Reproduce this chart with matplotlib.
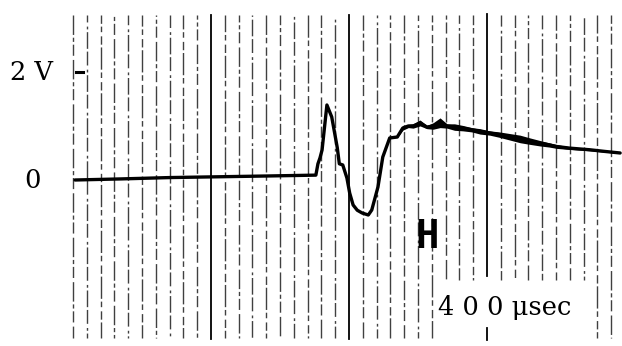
import numpy as np
import matplotlib
matplotlib.use("Agg")
import matplotlib.pyplot as plt

# Oscilloscope trace: time in microseconds, amplitude in volts
t_us = [-197, -130, -60, 13, 85, 152, 155, 158, 161, 168,
        175, 183, 186, 191, 197, 201, 206, 212, 219, 228,
        233, 242, 249, 259, 270, 278, 286, 293, 303, 313,
        322, 332, 342, 353, 365, 378, 390, 404, 418, 433,
        448, 462, 477, 490, 501, 520, 549, 570, 593]
volts = [0.0, 0.02, 0.045, 0.06, 0.075, 0.09, 0.30, 0.41, 0.556, 1.389,
         1.167, 0.60, 0.30, 0.278, 0.037, -0.241, -0.463, -0.56, -0.611, -0.648,
         -0.556, -0.130, 0.426, 0.778, 0.796, 0.963, 1.0, 1.0, 1.056, 0.98,
         1.0, 1.06, 1.0, 0.98, 0.96, 0.93, 0.90, 0.87, 0.84, 0.80,
         0.76, 0.72, 0.68, 0.65, 0.62, 0.59, 0.56, 0.53, 0.50]
# half-width of the noise band riding on the trace (volts)
noise = [0.0, 0.0, 0.0, 0.0, 0.0, 0.0, 0.0, 0.0, 0.0, 0.0,
         0.0, 0.0, 0.0, 0.0, 0.0, 0.0, 0.0, 0.0, 0.0, 0.0,
         0.0, 0.0, 0.0, 0.0, 0.01, 0.04, 0.03, 0.04, 0.055, 0.03,
         0.06, 0.09, 0.04, 0.06, 0.05, 0.04, 0.05, 0.04, 0.05, 0.06,
         0.07, 0.06, 0.05, 0.04, 0.035, 0.025, 0.02, 0.015, 0.01]

minor_step = 20          # us per minor division
major_ticks = [0, 200, 400]
grid_start, grid_end = -200, 580

y_labels = ["2 V", "0"]
time_label = "4 0 0 \u03bcsec"
trace_tag = "H"

fig = plt.figure(figsize=(6.22, 3.46), dpi=100)
ax = fig.add_axes([0, 0, 1, 1])
ax.set_xlim(-305.8, 595.7)
ax.set_ylim(-3.074, 3.333)
ax.axis("off")

# broken minor graticule
patterns = [(14, 2, 3, 2, 8, 3), (10, 3, 2, 2, 12, 2), (16, 2, 4, 3, 6, 2)]
for i, t in enumerate(np.arange(grid_start, grid_end + 1, minor_step)):
    if t in major_ticks:
        continue
    bottom = -1.85 if 330 <= t <= 540 else -2.93
    ax.plot([t, t], [3.05, bottom], color="#404040", lw=1.0,
            linestyle=(i * 5 % 17, patterns[i % 3]), zorder=1)

# solid major graticule lines
ax.plot([0, 0], [3.05, -2.95], color="black", lw=1.3, zorder=1)
ax.plot([200, 200], [3.05, -2.95], color="black", lw=1.3, zorder=1)
ax.plot([400, 400], [3.07, -1.78], color="black", lw=1.3, zorder=1)
ax.plot([400, 400], [-2.74, -2.96], color="black", lw=1.3, zorder=1)

# 2 V marker
ax.plot([-196, -186], [2.0, 2.0], color="black", lw=2.2, zorder=2)

t = np.array(t_us)
v = np.array(volts)
w = np.array(noise)
ax.fill_between(t, v - w, v + w, color="black", lw=0, zorder=3)
ax.plot(t, v, color="black", lw=2.4, solid_joinstyle="round",
        solid_capstyle="round", zorder=4)

serif = dict(family="DejaVu Serif", fontsize=18.5, color="black")
ax.text(-291, 1.852, y_labels[0], ha="left", va="baseline", **serif)
ax.text(-270, -0.148, y_labels[1], ha="left", va="baseline", **serif)
ax.text(329, -2.5, time_label, ha="left", va="baseline", **serif)
ax.text(313, -1.05, trace_tag, ha="center", va="center",
        family="DejaVu Sans Mono", fontweight="bold", fontsize=28, color="black")

fig.savefig("out.png", dpi=100)
